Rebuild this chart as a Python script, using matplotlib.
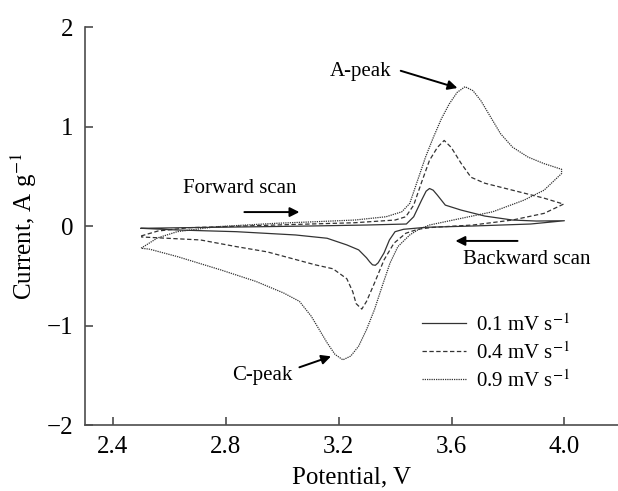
import numpy as np
import matplotlib
matplotlib.use("Agg")
from matplotlib import pyplot as plt

plt.rcParams["font.family"] = ["Liberation Serif", "DejaVu Serif"]
plt.rcParams["mathtext.fontset"] = "stix"

# 0.1 mV/s (solid)
v01_fwd = [2.50, 2.70, 2.90, 3.10, 3.30, 3.44, 3.466, 3.494, 3.51, 3.522, 3.535, 3.55, 3.578, 3.634, 3.718, 3.816, 3.90, 4.00]
i01_fwd = [-0.023, -0.015, -0.008, 0.0, 0.01, 0.02, 0.093, 0.26, 0.35, 0.377, 0.36, 0.31, 0.21, 0.16, 0.10, 0.06, 0.05, 0.053]
v01_bwd = [4.00, 3.88, 3.676, 3.51, 3.43, 3.40, 3.38, 3.361, 3.34, 3.33, 3.32, 3.31, 3.299, 3.271, 3.229, 3.159, 3.047, 2.837, 2.628, 2.50]
i01_bwd = [0.053, 0.02, 0.0, -0.013, -0.033, -0.057, -0.14, -0.27, -0.37, -0.395, -0.39, -0.36, -0.32, -0.24, -0.19, -0.123, -0.09, -0.057, -0.04, -0.023]

# 0.4 mV/s (dashed)
v04_fwd = [2.50, 2.56, 2.67, 2.977, 3.257, 3.40, 3.438, 3.466, 3.494, 3.522, 3.55, 3.574, 3.599, 3.634, 3.669, 3.718, 3.816, 3.928, 3.997]
i04_fwd = [-0.10, -0.05, -0.017, 0.01, 0.033, 0.06, 0.093, 0.21, 0.44, 0.66, 0.79, 0.86, 0.79, 0.63, 0.49, 0.43, 0.36, 0.28, 0.22]
v04_bwd = [3.997, 3.928, 3.816, 3.676, 3.536, 3.48, 3.438, 3.396, 3.361, 3.327, 3.299, 3.282, 3.262, 3.25, 3.229, 3.18, 3.117, 2.947, 2.837, 2.71, 2.50]
i04_bwd = [0.22, 0.127, 0.06, 0.01, -0.013, -0.033, -0.073, -0.173, -0.34, -0.573, -0.757, -0.835, -0.78, -0.66, -0.53, -0.43, -0.39, -0.26, -0.207, -0.14, -0.11]

# 0.9 mV/s (dotted)
v09_fwd = [2.50, 2.558, 2.628, 2.768, 2.977, 3.117, 3.257, 3.368, 3.424, 3.452, 3.48, 3.508, 3.536, 3.564, 3.592, 3.62, 3.648, 3.676, 3.704, 3.739, 3.774, 3.816, 3.871, 3.928, 3.99]
i09_fwd = [-0.223, -0.12, -0.057, -0.007, 0.027, 0.043, 0.06, 0.093, 0.143, 0.227, 0.46, 0.693, 0.893, 1.077, 1.227, 1.343, 1.40, 1.36, 1.26, 1.093, 0.927, 0.793, 0.693, 0.627, 0.57]
v09_bwd = [3.99, 3.928, 3.857, 3.746, 3.606, 3.522, 3.48, 3.452, 3.41, 3.382, 3.354, 3.327, 3.299, 3.271, 3.243, 3.215, 3.187, 3.159, 3.131, 3.103, 3.061, 3.005, 2.907, 2.781, 2.628, 2.53, 2.50]
i09_bwd = [0.527, 0.36, 0.26, 0.143, 0.06, 0.01, -0.04, -0.09, -0.207, -0.373, -0.607, -0.84, -1.04, -1.207, -1.307, -1.345, -1.29, -1.173, -1.04, -0.907, -0.757, -0.673, -0.557, -0.44, -0.307, -0.233, -0.223]

labels = ["0.1 mV s$^{-1}$", "0.4 mV s$^{-1}$", "0.9 mV s$^{-1}$"]
x_ticks = [2.4, 2.8, 3.2, 3.6, 4.0]
x_tick_labels = ["2.4", "2.8", "3.2", "3.6", "4.0"]
y_ticks = [-2, -1, 0, 1, 2]

curves = [
    (v01_fwd + v01_bwd, i01_fwd + i01_bwd, "-"),
    (v04_fwd + v04_bwd, i04_fwd + i04_bwd, (0, (3.5, 2))),
    (v09_fwd + v09_bwd, i09_fwd + i09_bwd, (0, (1, 0.8))),
]

fig = plt.figure(figsize=(6.18, 4.91), dpi=100)
ax = fig.add_axes([0.137, 0.1344, 0.863, 0.8106])

for (v, i, ls), lab in zip(curves, labels):
    ax.plot(v, i, color="0.2", lw=0.9, ls=ls, label=lab)

ax.set_xlim(2.3, 4.19)
ax.set_ylim(-2, 2)
ax.set_xticks(x_ticks)
ax.set_xticklabels(x_tick_labels)
ax.set_yticks(y_ticks)
ax.set_yticklabels(["\u22122", "\u22121", "0", "1", "2"])

for s in ["top", "right"]:
    ax.spines[s].set_visible(False)
for s in ["left", "bottom"]:
    ax.spines[s].set_color("0.3")
    ax.spines[s].set_linewidth(1.2)
ax.tick_params(direction="in", length=6, width=1.2, color="0.3", labelsize=18, pad=8)

ax.set_xlabel("Potential, V", fontsize=18, labelpad=6)
ax.set_ylabel("Current, A g$^{-1}$", fontsize=18, labelpad=6)

arrow = dict(arrowstyle="-|>", color="k", lw=1.4, mutation_scale=14, shrinkA=0, shrinkB=0)
ax.annotate("", xy=(3.621, 1.387), xytext=(3.42, 1.56), arrowprops=arrow)
ax.text(3.277, 1.548, "A-peak", fontsize=15, ha="center", va="center")
ax.annotate("", xy=(3.061, 0.14), xytext=(2.866, 0.14), arrowprops=arrow)
ax.text(2.85, 0.38, "Forward scan", fontsize=15, ha="center", va="center")
ax.annotate("", xy=(3.614, -0.15), xytext=(3.834, -0.15), arrowprops=arrow)
ax.text(3.866, -0.34, "Backward scan", fontsize=15, ha="center", va="center")
ax.annotate("", xy=(3.173, -1.31), xytext=(3.061, -1.42), arrowprops=arrow)
ax.text(2.928, -1.507, "C-peak", fontsize=15, ha="center", va="center")

ax.legend(loc="upper left", bbox_to_anchor=(0.617, 0.30), frameon=False, fontsize=15,
          handlelength=2.1, handletextpad=0.5, labelspacing=0.3, borderaxespad=0)

fig.savefig("out.png", dpi=100)
